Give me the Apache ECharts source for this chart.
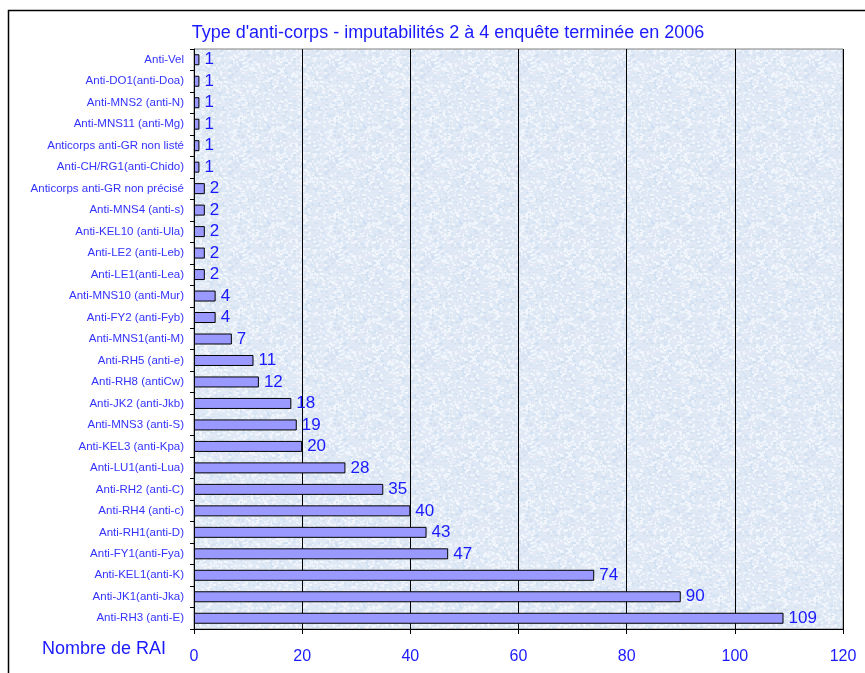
<!DOCTYPE html>
<html>
<head>
<meta charset="utf-8">
<script src="https://cdn.jsdelivr.net/npm/echarts@6/dist/echarts.min.js"></script>
<style>
html,body{margin:0;padding:0;background:#fff;}
#c{width:865px;height:673px;}
</style>
</head>
<body>
<div id="c"></div>
<script>
const categories = [
  "Anti-Vel",
  "Anti-DO1(anti-Doa)",
  "Anti-MNS2 (anti-N)",
  "Anti-MNS11 (anti-Mg)",
  "Anticorps anti-GR non listé",
  "Anti-CH/RG1(anti-Chido)",
  "Anticorps anti-GR non précisé",
  "Anti-MNS4 (anti-s)",
  "Anti-KEL10 (anti-Ula)",
  "Anti-LE2 (anti-Leb)",
  "Anti-LE1(anti-Lea)",
  "Anti-MNS10 (anti-Mur)",
  "Anti-FY2 (anti-Fyb)",
  "Anti-MNS1(anti-M)",
  "Anti-RH5 (anti-e)",
  "Anti-RH8 (antiCw)",
  "Anti-JK2 (anti-Jkb)",
  "Anti-MNS3 (anti-S)",
  "Anti-KEL3 (anti-Kpa)",
  "Anti-LU1(anti-Lua)",
  "Anti-RH2 (anti-C)",
  "Anti-RH4 (anti-c)",
  "Anti-RH1(anti-D)",
  "Anti-FY1(anti-Fya)",
  "Anti-KEL1(anti-K)",
  "Anti-JK1(anti-Jka)",
  "Anti-RH3 (anti-E)"
];
const values = [1,1,1,1,1,1,2,2,2,2,2,4,4,7,11,12,18,19,20,28,35,40,43,47,74,90,109];
const titleText = "Type d'anti-corps - imputabilités 2 à 4 enquête terminée en 2006";
const axisName = "Nombre de RAI";

// decorative mottled texture for the plot background
function makeTexture() {
  const cv = document.createElement('canvas');
  cv.width = 96; cv.height = 96;
  const ctx = cv.getContext('2d');
  ctx.fillStyle = '#dfe9f5';
  ctx.fillRect(0, 0, 96, 96);
  let s = 12345;
  const rnd = () => { s = (s * 1103515245 + 12345) & 0x7fffffff; return s / 0x7fffffff; };
  for (let i = 0; i < 1400; i++) {
    const x = Math.floor(rnd() * 96), y = Math.floor(rnd() * 96);
    const t = rnd();
    ctx.fillStyle = t < 0.5 ? 'rgba(245,248,253,0.7)' : (t < 0.8 ? 'rgba(205,222,240,0.6)' : 'rgba(230,232,245,0.7)');
    ctx.fillRect(x, y, 2 + Math.floor(rnd() * 2), 2);
  }
  return cv;
}

const chart = echarts.init(document.getElementById('c'));
chart.setOption({
  animation: false,
  backgroundColor: '#ffffff',
  title: {
    text: titleText,
    left: 443, top: 19, textAlign: 'center',
    textStyle: {color: '#1a1aff', fontSize: 18, fontWeight: 'normal', fontFamily: 'Liberation Sans, Arial, sans-serif'}
  },
  graphic: [{
    type: 'rect', shape: {x: 8.5, y: 10.5, width: 900, height: 700},
    style: {fill: 'none', stroke: '#000', lineWidth: 1.5}, silent: true, z: 0
  }, {
    type: 'text', left: 42, top: 640,
    style: {text: axisName, fill: '#1a1aff', fontSize: 18, fontFamily: 'Liberation Sans, Arial, sans-serif'}
  }],
  grid: {
    left: 194, right: 22, top: 49, bottom: 44,
    show: true, backgroundColor: {image: makeTexture(), repeat: 'repeat'}, borderColor: '#808080', borderWidth: 1
  },
  xAxis: {
    type: 'value', min: 0, max: 120, interval: 20,
    axisLine: {show: true, lineStyle: {color: '#000'}},
    axisTick: {show: true, length: 5, inside: false, lineStyle: {color: '#000'}},
    splitLine: {show: true, lineStyle: {color: '#000', width: 1}},
    axisLabel: {color: '#1a1aff', fontSize: 16, margin: 20, fontFamily: 'Liberation Sans, Arial, sans-serif'}
  },
  yAxis: {
    type: 'category', data: categories, inverse: true,
    axisLine: {show: true, lineStyle: {color: '#000'}},
    axisTick: {show: true, length: 4, lineStyle: {color: '#000'}},
    axisLabel: {color: '#3333ff', fontSize: 11.5, margin: 10, fontFamily: 'Liberation Sans, Arial, sans-serif'}
  },
  series: [{
    type: 'bar', data: values, barWidth: 11,
    itemStyle: {color: '#9999ff', borderColor: '#000', borderWidth: 1},
    label: {show: true, position: 'right', distance: 5, color: '#1a1aff', fontSize: 17, fontFamily: 'Liberation Sans, Arial, sans-serif'}
  }]
});
</script>
</body>
</html>
